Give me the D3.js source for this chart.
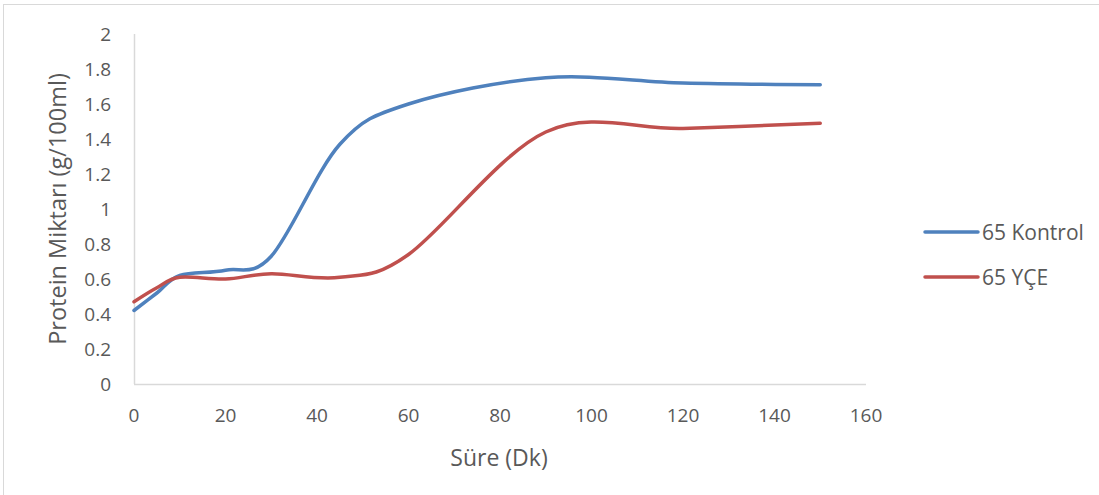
<!DOCTYPE html>
<html>
<head>
<meta charset="utf-8">
<script src="https://cdn.jsdelivr.net/npm/d3@7"></script>
<style>
  body { margin: 0; background: #fff; }
  text { font-family: "Open Sans", sans-serif; fill: #595959; }
</style>
</head>
<body>
<svg width="1099" height="495"></svg>
<script>
const times = [0, 5, 10, 20, 30, 45, 60, 90, 120, 150];
const kontrol = [0.42, 0.52, 0.62, 0.65, 0.73, 1.37, 1.60, 1.75, 1.72, 1.71];
const yce = [0.47, 0.55, 0.61, 0.60, 0.63, 0.61, 0.74, 1.44, 1.46, 1.49];
const seriesNames = ["65 Kontrol", "65 YÇE"];
const seriesColors = ["#4f81bd", "#c0504d"];
const xTicks = [0, 20, 40, 60, 80, 100, 120, 140, 160];
const yTicks = [0, 0.2, 0.4, 0.6, 0.8, 1, 1.2, 1.4, 1.6, 1.8, 2];

const svg = d3.select("svg");

// outer chart frame (runs off the right and bottom edge)
svg.append("rect")
  .attr("x", 3.5).attr("y", 4.5)
  .attr("width", 1200).attr("height", 600)
  .attr("fill", "none").attr("stroke", "#d9d9d9");

const x = d3.scaleLinear().domain([0, 160]).range([134, 866]);
const y = d3.scaleLinear().domain([0, 2]).range([384, 34]);

// axes
svg.append("line")
  .attr("x1", x(0)).attr("x2", x(160))
  .attr("y1", y(0) + 0.5).attr("y2", y(0) + 0.5)
  .attr("stroke", "#d9d9d9").attr("stroke-width", 1.5);
svg.append("line")
  .attr("x1", x(0) + 0.5).attr("x2", x(0) + 0.5)
  .attr("y1", y(2)).attr("y2", y(0))
  .attr("stroke", "#d9d9d9").attr("stroke-width", 1.5);

svg.append("g").selectAll("text")
  .data(xTicks)
  .join("text")
  .attr("x", d => x(d))
  .attr("y", 415)
  .attr("text-anchor", "middle")
  .attr("dominant-baseline", "central")
  .attr("font-size", 19)
  .text(d => d);

svg.append("g").selectAll("text")
  .data(yTicks)
  .join("text")
  .attr("x", 111)
  .attr("y", d => y(d))
  .attr("text-anchor", "end")
  .attr("dominant-baseline", "central")
  .attr("font-size", 19)
  .text(d => d);

svg.append("text")
  .attr("x", 499).attr("y", 457)
  .attr("text-anchor", "middle")
  .attr("dominant-baseline", "central")
  .attr("font-size", 23)
  .text("Süre (Dk)");

svg.append("text")
  .attr("transform", "translate(57,209) rotate(-90)")
  .attr("text-anchor", "middle")
  .attr("dominant-baseline", "central")
  .attr("font-size", 23.5)
  .text("Protein Miktarı (g/100ml)");

// smooth lines like Excel
const line = d3.line()
  .x((d, i) => x(times[i]))
  .y(d => y(d))
  .curve(d3.curveCardinal.tension(0));

[kontrol, yce].forEach((vals, k) => {
  svg.append("path")
    .attr("d", line(vals))
    .attr("fill", "none")
    .attr("stroke", seriesColors[k])
    .attr("stroke-width", 3.5)
    .attr("stroke-linecap", "round");
});

// legend
const legend = svg.append("g").selectAll("g")
  .data(seriesNames)
  .join("g")
  .attr("transform", (d, i) => `translate(925,${232 + i * 45})`);
legend.append("line")
  .attr("x1", 0).attr("x2", 53)
  .attr("stroke", (d, i) => seriesColors[i])
  .attr("stroke-width", 3.5)
  .attr("stroke-linecap", "round");
legend.append("text")
  .attr("x", 57)
  .attr("dominant-baseline", "central")
  .attr("font-size", 21)
  .text(d => d);
</script>
</body>
</html>
